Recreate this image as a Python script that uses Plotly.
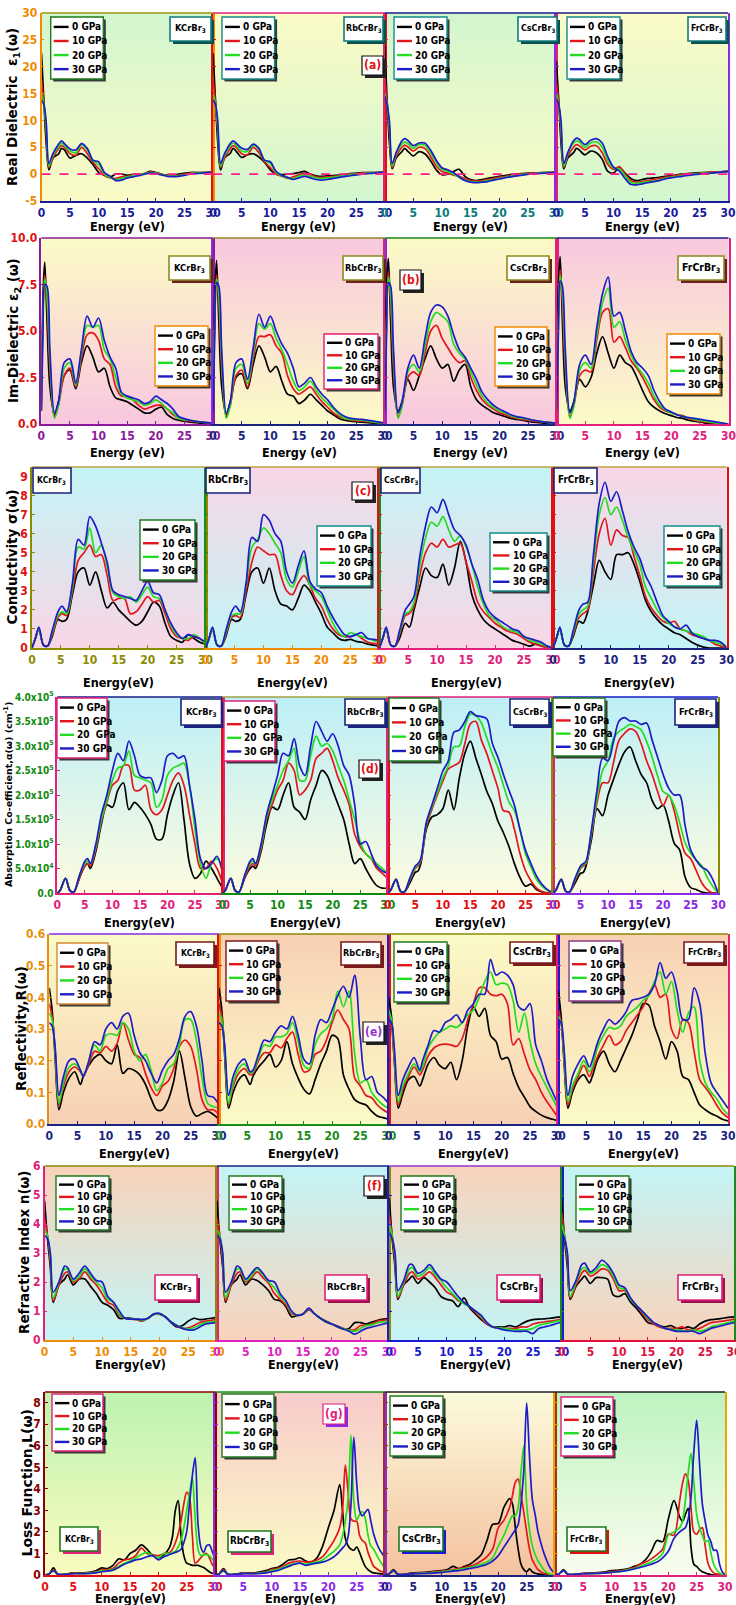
import base64
import struct
import zlib
import plotly.graph_objects as go

W, H = 736, 1605
NARROW = "Liberation Sans Narrow, DejaVu Sans Condensed, Arial Narrow, Liberation Sans, sans-serif"
WIDE = "DejaVu Sans, Liberation Sans, Arial, sans-serif"

# ---------------------------------------------------------------- data
PRESSURES = ["0 GPa", "10 GPa", "20 GPa", "30 GPa"]
PRESSURES_D = ["0 GPa", "10 GPa", "20\u00a0 GPa", "30 GPa"]
PRESSURES_F = ["0 GPa", "10 GPa", "10 GPa", "30 GPa"]
COMPOUNDS = ["KCrBr<sub>3</sub>", "RbCrBr<sub>3</sub>", "CsCrBr<sub>3</sub>", "FrCrBr<sub>3</sub>"]
SERIES_COLORS = ["#000000", "#e3161b", "#22dc22", "#1c1cc8"]

X_TICKS = [0, 5, 10, 15, 20, 25, 30]
X_LABELS = ["0", "5", "10", "15", "20", "25", "30"]

# (a) real dielectric function
E_EPS1 = [0, 0.4, 0.8, 1.3, 2, 3, 3.5, 4, 5, 6, 7, 8, 9, 10, 11, 12, 13, 14, 15, 16, 17, 18, 19, 20, 22, 24, 26, 28, 30]
EPS1_K = [
    [22.5, 14, 6, 0.8, 3.0, 3.8, 4.8, 4.5, 3.0, 3.5, 3.8, 3.0, 1.8, 0.3, -0.2, -0.5, 0.0, 0.0, -0.2, -0.1, 0.0, 0.1, 0.5, 0.3, -0.2, 0.0, 0.3, 0.3, 0.4],
    [17.5, 13.5, 8, 1.2, 3.0, 4.8, 5.3, 5.0, 3.8, 3.5, 5.0, 3.8, 2.2, 1.0, -0.2, -0.7, -0.8, -0.5, -0.4, -0.2, 0.0, 0.1, 0.4, 0.2, -0.3, -0.2, 0.2, 0.3, 0.4],
    [15, 13, 9, 1.5, 3.5, 5.2, 5.8, 5.3, 4.3, 4.0, 5.5, 4.5, 2.5, 1.8, 0.0, -0.6, -1.0, -0.8, -0.5, -0.3, -0.1, 0.1, 0.3, 0.2, -0.3, -0.3, 0.1, 0.3, 0.4],
    [13.8, 13, 10, 2.0, 3.8, 5.6, 6.2, 5.7, 4.7, 4.5, 5.7, 4.8, 2.6, 2.3, 0.3, -0.4, -1.2, -1.1, -0.7, -0.5, -0.3, 0.0, 0.2, 0.1, -0.4, -0.4, 0.0, 0.2, 0.4],
]
EPS1_RB = [
    [22.5, 14, 6, 0.8, 3.0, 3.9, 4.8, 4.3, 3.1, 3.6, 3.8, 3.2, 2.2, 0.8, 0.0, -0.1, 0.0, 0.1, 0.3, 0.5, 0.0, -0.3, -0.4, -0.3, -0.2, 0.1, 0.3, 0.3, 0.4],
    [17.5, 13.5, 8, 1.2, 3.0, 4.8, 5.3, 5.0, 3.8, 3.6, 5.0, 4.0, 2.3, 1.2, 0.0, -0.4, -0.8, -0.5, -0.1, 0.2, -0.1, -0.5, -0.6, -0.5, -0.3, 0.0, 0.2, 0.3, 0.4],
    [15, 13, 9, 1.5, 3.5, 5.3, 5.8, 5.4, 4.3, 4.2, 5.4, 4.6, 2.5, 2.0, 0.3, -0.3, -0.7, -0.8, -0.4, -0.1, -0.4, -0.7, -0.8, -0.7, -0.4, -0.1, 0.1, 0.3, 0.4],
    [13.8, 13, 10, 2.0, 3.8, 5.7, 6.2, 5.8, 4.8, 4.6, 5.6, 4.8, 2.6, 2.3, 0.5, -0.2, -0.6, -1.0, -0.7, -0.4, -0.7, -1.0, -1.1, -1.0, -0.6, -0.3, 0.0, 0.2, 0.4],
]
EPS1_CS = [
    [24, 14, 6, 1.0, 3.0, 4.2, 4.8, 4.3, 3.4, 4.2, 3.8, 2.5, 0.8, -0.1, 0.0, 0.5, 0.9, -0.4, -1.0, -1.2, -1.0, -0.8, -0.6, -0.4, -0.1, 0.1, 0.2, 0.3, 0.4],
    [18, 13.5, 8, 1.2, 3.3, 5.0, 5.4, 5.1, 4.3, 5.0, 4.8, 3.3, 1.5, 0.5, 0.2, -0.2, -0.4, -0.8, -1.2, -1.3, -1.2, -1.0, -0.8, -0.6, -0.3, 0.0, 0.2, 0.3, 0.4],
    [15, 13, 9, 1.5, 3.7, 5.6, 6.0, 5.7, 4.8, 5.5, 5.4, 4.0, 2.2, 0.9, 0.5, 0.0, -0.6, -1.1, -1.4, -1.5, -1.4, -1.2, -1.0, -0.8, -0.4, -0.1, 0.1, 0.3, 0.4],
    [14.5, 13, 10, 2.0, 4.0, 6.2, 6.6, 6.3, 5.3, 5.8, 5.8, 4.5, 2.6, 1.2, 0.8, 0.3, -0.5, -1.2, -1.5, -1.6, -1.5, -1.4, -1.1, -0.9, -0.5, -0.2, 0.1, 0.2, 0.4],
]
EPS1_FR = [
    [21, 14, 6, 1.0, 3.0, 4.0, 4.8, 4.5, 3.6, 4.3, 4.0, 2.8, 0.5, 0.2, 1.2, 0.2, -0.8, -1.2, -1.0, -0.8, -0.7, -0.6, -0.4, -0.3, 0.0, 0.2, 0.3, 0.4, 0.5],
    [17, 13.5, 8, 1.3, 3.3, 5.0, 5.5, 5.3, 4.5, 5.2, 5.3, 4.0, 1.8, 0.9, 1.4, 0.0, -1.2, -1.5, -1.4, -1.2, -1.0, -0.8, -0.6, -0.4, -0.1, 0.1, 0.3, 0.4, 0.5],
    [15, 13, 9, 1.5, 3.8, 5.8, 6.2, 6.0, 5.0, 5.8, 6.0, 5.0, 2.5, 1.1, 1.0, -0.3, -1.5, -1.7, -1.6, -1.4, -1.3, -1.1, -0.8, -0.6, -0.3, 0.0, 0.2, 0.3, 0.5],
    [14, 13, 10, 2.0, 4.0, 6.2, 6.7, 6.5, 5.5, 6.3, 6.6, 5.8, 3.2, 1.3, 0.6, -0.8, -1.9, -2.0, -1.8, -1.6, -1.4, -1.2, -0.9, -0.7, -0.4, -0.1, 0.1, 0.3, 0.5],
]

# (b) imaginary dielectric function
E_EPS2 = [0, 0.3, 0.6, 1, 1.5, 2.3, 3, 4, 5, 6, 7, 8, 9, 10, 11, 12, 13, 14, 15, 16, 17, 18, 19, 20, 21, 22, 23, 24, 26, 28, 30]
EPS2_K = [
    [0.8, 7.0, 8.7, 5.5, 2.0, 0.5, 1.2, 2.6, 2.9, 1.9, 3.3, 4.2, 3.6, 2.8, 3.0, 2.0, 1.4, 1.3, 1.2, 1.0, 0.8, 0.6, 0.6, 0.8, 0.9, 0.5, 0.3, 0.2, 0.1, 0.05, 0.0],
    [0.7, 6.0, 8.0, 6.5, 3.0, 0.4, 1.0, 2.6, 3.0, 2.0, 3.5, 4.8, 4.9, 4.5, 3.5, 3.2, 2.0, 1.5, 1.5, 1.3, 1.0, 0.8, 0.9, 1.0, 1.0, 0.8, 0.5, 0.3, 0.15, 0.1, 0.05],
    [0.7, 5.5, 7.8, 7.0, 3.5, 0.3, 1.0, 3.0, 3.3, 2.1, 3.8, 5.3, 5.2, 5.3, 4.0, 3.5, 2.5, 1.6, 1.4, 1.3, 1.2, 1.0, 1.1, 1.3, 1.1, 0.8, 0.6, 0.3, 0.2, 0.1, 0.05],
    [0.7, 5.0, 7.5, 7.4, 4.0, 0.6, 1.2, 3.3, 3.5, 2.2, 4.0, 5.8, 5.2, 5.7, 4.5, 3.6, 3.0, 1.7, 1.5, 1.4, 1.3, 1.1, 1.2, 1.5, 1.3, 1.1, 0.8, 0.4, 0.2, 0.1, 0.05],
]
EPS2_RB = [
    [0.8, 7.0, 8.8, 5.5, 2.0, 0.5, 1.2, 2.5, 2.7, 1.9, 3.2, 4.2, 3.6, 2.8, 3.1, 2.3, 1.6, 1.5, 1.1, 1.3, 1.6, 1.3, 1.0, 0.7, 0.5, 0.3, 0.2, 0.15, 0.1, 0.05, 0.0],
    [0.7, 6.0, 8.0, 6.5, 3.0, 0.4, 1.0, 2.6, 2.9, 2.0, 3.5, 4.7, 4.7, 4.8, 4.2, 3.8, 2.6, 1.9, 1.6, 1.8, 2.0, 1.6, 1.2, 0.9, 0.6, 0.4, 0.3, 0.2, 0.15, 0.1, 0.05],
    [0.7, 5.5, 7.8, 7.0, 3.5, 0.3, 1.0, 3.0, 3.2, 2.2, 3.8, 5.4, 5.1, 5.4, 4.6, 4.0, 3.2, 2.3, 1.8, 2.0, 2.3, 1.8, 1.4, 1.1, 0.8, 0.5, 0.3, 0.25, 0.2, 0.1, 0.05],
    [0.7, 5.0, 7.6, 7.4, 4.0, 0.6, 1.2, 3.3, 3.5, 2.4, 4.1, 5.9, 5.2, 5.8, 5.0, 4.3, 3.8, 3.0, 2.0, 2.2, 2.5, 2.0, 1.6, 1.3, 0.9, 0.6, 0.4, 0.3, 0.25, 0.15, 0.05],
]
EPS2_CS = [
    [0.8, 7.5, 8.9, 5.5, 2.0, 0.7, 1.2, 2.4, 1.8, 2.6, 3.5, 4.2, 3.5, 3.0, 3.2, 2.3, 2.9, 3.2, 2.0, 1.3, 1.0, 0.8, 0.6, 0.5, 0.4, 0.3, 0.25, 0.2, 0.1, 0.05, 0.0],
    [0.7, 6.0, 8.2, 6.5, 3.0, 0.4, 1.0, 2.5, 2.8, 2.6, 3.8, 5.0, 5.3, 4.6, 4.1, 3.6, 3.3, 3.4, 2.5, 1.8, 1.3, 1.0, 0.8, 0.6, 0.5, 0.4, 0.3, 0.25, 0.15, 0.1, 0.05],
    [0.7, 5.5, 7.9, 7.0, 3.5, 0.3, 1.0, 2.8, 3.2, 2.8, 4.2, 5.5, 6.0, 5.8, 5.5, 4.3, 3.8, 3.5, 2.8, 2.1, 1.5, 1.1, 0.9, 0.7, 0.6, 0.45, 0.35, 0.3, 0.2, 0.1, 0.05],
    [0.7, 5.0, 7.6, 7.4, 4.0, 0.6, 1.2, 3.0, 3.7, 3.0, 4.6, 6.0, 6.4, 6.3, 5.8, 4.8, 4.0, 3.6, 3.0, 2.4, 1.7, 1.3, 1.0, 0.8, 0.65, 0.5, 0.4, 0.35, 0.2, 0.1, 0.05],
]
EPS2_FR = [
    [0.8, 7.5, 9.0, 5.5, 2.0, 0.7, 1.2, 2.4, 2.0, 2.5, 3.8, 4.7, 3.8, 3.0, 3.7, 3.3, 3.1, 2.5, 1.8, 1.2, 0.9, 0.7, 0.55, 0.45, 0.35, 0.3, 0.2, 0.15, 0.05, 0.0, 0.0],
    [0.7, 6.0, 8.3, 6.5, 3.0, 0.4, 1.0, 2.6, 2.9, 2.8, 4.5, 6.0, 6.2, 4.4, 4.7, 4.1, 3.4, 3.0, 2.5, 1.9, 1.3, 0.9, 0.7, 0.6, 0.5, 0.45, 0.3, 0.2, 0.1, 0.05, 0.0],
    [0.7, 5.5, 8.0, 7.0, 3.5, 0.3, 1.0, 2.9, 3.3, 3.0, 4.8, 6.5, 7.3, 5.2, 5.5, 4.5, 3.7, 3.1, 2.7, 2.2, 1.5, 1.0, 0.75, 0.6, 0.5, 0.4, 0.35, 0.25, 0.15, 0.05, 0.0],
    [0.7, 5.0, 7.7, 7.4, 4.0, 0.6, 1.2, 3.2, 3.7, 3.2, 5.2, 7.0, 7.9, 5.8, 6.0, 5.0, 3.9, 3.3, 3.0, 2.6, 1.8, 1.2, 0.8, 0.65, 0.5, 0.4, 0.35, 0.3, 0.2, 0.1, 0.0],
]

# (c) optical conductivity
E_SIG = [0, 0.6, 1.2, 2, 2.7, 3.5, 4.5, 5.2, 6, 7, 8, 9, 10, 11, 12, 13, 14, 15, 16, 17, 18, 19, 20, 21, 22, 23, 24, 25, 26, 27, 28, 29, 30]
SIG_K = [
    [0, 0.5, 1.0, 0.15, 0.1, 0.6, 1.5, 1.4, 1.5, 2.8, 4.0, 4.2, 3.3, 4.0, 3.0, 2.1, 2.4, 2.0, 1.7, 1.4, 1.2, 1.4, 1.9, 2.4, 2.2, 1.3, 0.6, 0.4, 0.3, 0.7, 0.5, 0.3, 0.2],
    [0, 0.5, 1.0, 0.15, 0.1, 0.7, 1.6, 1.8, 1.7, 3.0, 4.6, 5.0, 5.4, 4.8, 4.9, 3.8, 2.5, 2.6, 2.6, 1.8, 1.9, 2.3, 2.7, 2.4, 2.5, 1.8, 1.0, 0.6, 0.5, 0.4, 0.6, 0.5, 0.2],
    [0, 0.5, 1.0, 0.15, 0.1, 0.8, 1.7, 1.9, 1.8, 3.2, 5.3, 5.2, 6.3, 5.0, 5.4, 4.3, 2.9, 2.7, 2.6, 2.7, 2.4, 2.8, 3.2, 2.7, 2.6, 2.0, 1.2, 0.7, 0.5, 0.5, 0.7, 0.5, 0.2],
    [0, 0.5, 1.1, 0.15, 0.1, 0.9, 1.9, 2.2, 1.9, 3.4, 5.7, 5.4, 6.9, 6.4, 5.5, 4.5, 3.0, 2.8, 2.7, 2.6, 2.5, 3.0, 3.5, 2.9, 2.8, 2.0, 1.3, 0.8, 0.5, 0.7, 0.6, 0.5, 0.3],
]
SIG_RB = [
    [0, 0.5, 1.0, 0.15, 0.1, 0.6, 1.5, 1.4, 1.5, 2.8, 4.0, 4.2, 3.4, 4.2, 3.0, 2.3, 2.2, 2.0, 2.6, 3.3, 3.0, 2.4, 1.8, 1.1, 0.8, 0.5, 0.4, 0.45, 0.35, 0.3, 0.2, 0.15, 0.1],
    [0, 0.5, 1.0, 0.15, 0.1, 0.7, 1.6, 1.7, 1.6, 3.0, 4.5, 5.3, 5.1, 4.9, 4.9, 3.8, 3.0, 2.8, 3.4, 3.8, 3.3, 2.6, 2.2, 1.5, 1.0, 0.7, 0.6, 0.6, 0.7, 0.5, 0.3, 0.25, 0.2],
    [0, 0.5, 1.0, 0.15, 0.1, 0.8, 1.7, 1.8, 1.8, 3.3, 5.3, 5.7, 6.3, 6.0, 5.5, 5.0, 3.6, 3.2, 4.0, 4.8, 3.3, 3.0, 2.7, 2.0, 1.3, 0.8, 0.6, 0.8, 0.7, 0.6, 0.5, 0.4, 0.3],
    [0, 0.5, 1.1, 0.15, 0.1, 0.9, 1.9, 2.2, 1.9, 3.4, 5.8, 5.6, 7.0, 6.7, 6.0, 5.6, 4.0, 3.4, 4.3, 5.1, 3.5, 3.1, 2.9, 2.2, 1.6, 1.1, 0.7, 0.6, 0.7, 0.8, 0.5, 0.45, 0.4],
]
SIG_CS = [
    [0, 0.5, 1.0, 0.15, 0.1, 0.5, 1.3, 1.1, 2.0, 3.2, 4.2, 3.8, 3.7, 4.4, 3.3, 4.2, 5.6, 4.5, 2.8, 2.0, 1.5, 1.2, 1.0, 0.8, 0.6, 0.4, 0.3, 0.2, 0.1, 0.2, 0.1, 0.05, 0.0],
    [0, 0.5, 1.0, 0.15, 0.1, 0.7, 1.7, 1.8, 2.2, 3.8, 5.0, 5.5, 5.3, 5.7, 5.3, 5.4, 5.5, 4.5, 3.5, 2.4, 1.9, 1.6, 1.3, 1.1, 0.9, 0.8, 0.7, 0.5, 0.3, 0.2, 0.1, 0.05, 0.0],
    [0, 0.5, 1.0, 0.15, 0.1, 0.8, 1.8, 1.9, 2.4, 4.3, 5.8, 6.6, 6.4, 6.9, 6.2, 5.6, 5.9, 5.3, 4.4, 3.2, 2.3, 1.7, 1.5, 1.2, 1.0, 0.9, 0.8, 0.6, 0.4, 0.3, 0.2, 0.1, 0.0],
    [0, 0.5, 1.1, 0.15, 0.1, 0.9, 2.0, 2.3, 2.7, 4.8, 6.4, 7.4, 7.1, 7.8, 7.0, 6.2, 5.9, 5.4, 4.4, 3.6, 2.5, 1.9, 1.6, 1.4, 1.2, 1.0, 0.9, 0.6, 0.5, 0.4, 0.3, 0.1, 0.0],
]
SIG_FR = [
    [0, 0.5, 1.0, 0.15, 0.1, 0.6, 1.4, 1.3, 1.9, 3.3, 4.6, 4.0, 3.6, 4.9, 4.9, 5.0, 4.4, 3.5, 2.5, 1.9, 1.5, 1.2, 1.0, 0.8, 0.7, 0.5, 0.3, 0.15, 0.05, 0.0, 0.0, 0.0, 0.0],
    [0, 0.5, 1.0, 0.15, 0.1, 0.7, 1.6, 1.8, 2.0, 4.0, 6.0, 6.8, 5.4, 6.2, 5.9, 5.8, 4.8, 3.8, 2.7, 2.1, 1.7, 1.4, 1.3, 1.4, 1.0, 0.9, 0.7, 0.6, 0.5, 0.4, 0.2, 0.1, 0.0],
    [0, 0.5, 1.0, 0.15, 0.1, 0.8, 1.8, 2.0, 2.2, 4.5, 7.0, 7.9, 7.0, 7.4, 6.7, 5.8, 5.1, 4.4, 3.2, 2.6, 2.0, 1.6, 1.3, 1.1, 1.0, 0.9, 0.8, 0.7, 0.6, 0.4, 0.3, 0.2, 0.1],
    [0, 0.5, 1.1, 0.15, 0.1, 0.9, 2.0, 2.3, 2.4, 4.9, 7.6, 8.7, 7.7, 8.2, 7.2, 6.1, 5.3, 4.7, 3.8, 3.2, 2.4, 1.7, 1.4, 1.1, 1.0, 1.2, 0.8, 0.6, 0.5, 0.4, 0.4, 0.3, 0.0],
]

# (d) absorption coefficient, in units of 1e5 cm^-1
ABS_UNIT = 1e5
E_ABS = [0, 0.5, 1.5, 2.3, 3, 4, 5, 5.5, 6, 7, 8, 9, 10, 11, 12, 13, 14, 15, 16, 17, 18, 19, 20, 21, 22, 23, 24, 25, 26, 27, 28, 29, 30]
ABS_K = [
    [0, 0.05, 0.3, 0.05, 0.02, 0.3, 0.55, 0.6, 0.5, 0.85, 1.4, 1.8, 1.75, 2.1, 2.25, 1.7, 1.85, 1.75, 1.6, 1.4, 1.1, 1.1, 1.6, 2.0, 2.25, 1.5, 0.6, 0.3, 0.4, 0.65, 0.5, 0.3, 0.1],
    [0, 0.05, 0.3, 0.05, 0.02, 0.3, 0.55, 0.6, 0.55, 0.9, 1.45, 1.85, 2.2, 2.3, 2.6, 2.6, 2.1, 2.1, 2.2, 1.7, 1.6, 1.7, 2.0, 2.3, 2.45, 2.2, 1.6, 1.0, 0.5, 0.5, 0.65, 0.5, 0.2],
    [0, 0.05, 0.3, 0.05, 0.02, 0.35, 0.6, 0.65, 0.6, 0.95, 1.5, 1.9, 2.3, 2.55, 2.6, 2.9, 2.4, 2.35, 2.3, 2.25, 1.75, 1.9, 2.4, 2.55, 2.6, 2.65, 2.2, 1.3, 0.6, 0.3, 0.6, 0.7, 0.5],
    [0, 0.05, 0.3, 0.05, 0.02, 0.35, 0.65, 0.7, 0.6, 1.0, 1.6, 2.0, 2.5, 2.85, 2.7, 3.1, 2.8, 2.4, 2.35, 2.35, 2.05, 2.3, 2.8, 2.85, 2.75, 2.8, 2.2, 1.5, 0.7, 0.5, 0.6, 0.75, 0.4],
]
ABS_RB = [
    [0, 0.05, 0.3, 0.05, 0.02, 0.3, 0.5, 0.55, 0.5, 0.85, 1.4, 1.75, 1.7, 2.0, 2.25, 1.75, 1.65, 1.5, 1.9, 2.2, 2.5, 2.4, 2.1, 1.8, 1.5, 1.0, 0.6, 0.7, 0.5, 0.3, 0.15, 0.1, 0.1],
    [0, 0.05, 0.3, 0.05, 0.02, 0.3, 0.55, 0.6, 0.55, 0.9, 1.5, 1.8, 2.1, 2.3, 2.65, 2.5, 2.0, 2.1, 2.3, 2.75, 2.85, 2.95, 2.7, 2.35, 2.1, 1.8, 1.2, 0.95, 0.8, 0.7, 0.5, 0.4, 0.3],
    [0, 0.05, 0.3, 0.05, 0.02, 0.35, 0.6, 0.65, 0.6, 0.95, 1.55, 1.9, 2.2, 2.5, 2.7, 2.95, 2.3, 2.3, 2.8, 3.2, 3.0, 3.05, 2.9, 2.6, 2.3, 1.9, 1.5, 1.05, 0.8, 0.7, 0.6, 0.5, 0.4],
    [0, 0.05, 0.3, 0.05, 0.02, 0.35, 0.65, 0.7, 0.6, 1.0, 1.6, 2.0, 2.4, 2.85, 2.8, 3.15, 2.6, 2.4, 3.0, 3.5, 3.3, 3.1, 3.25, 3.0, 2.6, 2.4, 1.8, 1.0, 1.05, 0.8, 0.55, 0.45, 0.4],
]
ABS_CS = [
    [0, 0.05, 0.28, 0.04, 0.02, 0.2, 0.42, 0.45, 0.6, 1.3, 1.55, 1.6, 1.72, 2.1, 1.7, 2.35, 2.85, 3.1, 2.75, 2.42, 2.07, 1.82, 1.47, 1.23, 0.95, 0.6, 0.32, 0.14, 0.18, 0.07, 0.02, 0.0, 0.0],
    [0, 0.05, 0.28, 0.04, 0.02, 0.25, 0.5, 0.55, 0.65, 1.35, 1.7, 2.0, 2.28, 2.53, 2.6, 2.67, 3.05, 3.45, 3.5, 3.12, 2.84, 2.49, 2.14, 1.68, 1.65, 1.3, 0.81, 0.46, 0.25, 0.1, 0.03, 0.0, 0.0],
    [0, 0.05, 0.28, 0.04, 0.02, 0.28, 0.52, 0.58, 0.68, 1.4, 1.75, 2.05, 2.35, 2.6, 2.98, 3.0, 3.4, 3.65, 3.62, 3.47, 3.16, 2.84, 2.56, 2.2, 1.86, 1.68, 1.3, 0.8, 0.53, 0.28, 0.14, 0.05, 0.0],
    [0, 0.05, 0.28, 0.04, 0.02, 0.3, 0.55, 0.6, 0.7, 1.44, 1.79, 2.14, 2.49, 2.7, 3.28, 3.33, 3.5, 3.7, 3.62, 3.6, 3.55, 3.05, 2.77, 2.42, 2.1, 1.79, 1.3, 0.88, 0.6, 0.35, 0.18, 0.07, 0.0],
]
ABS_FR = [
    [0, 0.05, 0.28, 0.04, 0.02, 0.2, 0.4, 0.42, 0.55, 1.1, 1.72, 1.58, 2.0, 2.32, 2.63, 2.88, 2.98, 2.7, 2.42, 2.25, 1.89, 1.72, 1.79, 1.47, 1.02, 0.88, 0.32, 0.11, 0.07, 0.02, 0.0, 0.0, 0.0],
    [0, 0.05, 0.28, 0.04, 0.02, 0.25, 0.5, 0.55, 0.6, 1.2, 1.85, 2.25, 2.25, 2.67, 3.12, 3.26, 3.35, 3.3, 3.05, 2.7, 2.42, 2.07, 1.79, 2.0, 1.68, 1.19, 0.81, 0.7, 0.46, 0.21, 0.07, 0.0, 0.0],
    [0, 0.05, 0.28, 0.04, 0.02, 0.28, 0.52, 0.58, 0.62, 1.25, 1.95, 2.5, 2.7, 3.16, 3.3, 3.37, 3.44, 3.4, 3.33, 3.09, 2.77, 2.39, 2.07, 2.0, 1.79, 1.44, 1.02, 0.81, 0.67, 0.56, 0.32, 0.14, 0.0],
    [0, 0.05, 0.28, 0.04, 0.02, 0.3, 0.55, 0.6, 0.65, 1.3, 2.1, 2.75, 2.7, 3.09, 3.51, 3.58, 3.51, 3.51, 3.44, 3.47, 3.12, 2.77, 2.42, 2.14, 2.0, 2.0, 1.37, 0.88, 0.67, 0.53, 0.46, 0.28, 0.0],
]

# (e) reflectivity
E_REF = [0, 0.5, 1, 1.7, 2.5, 3.5, 4.5, 5.5, 6, 7, 8, 9, 10, 11, 12, 13, 14, 15, 16, 17, 18, 19, 20, 21, 22, 23, 24, 25, 26, 27, 28, 29, 30]
REF_K = [
    [0.43, 0.36, 0.22, 0.045, 0.1, 0.145, 0.165, 0.125, 0.15, 0.185, 0.21, 0.22, 0.2, 0.19, 0.25, 0.16, 0.175, 0.17, 0.155, 0.125, 0.08, 0.045, 0.045, 0.075, 0.135, 0.23, 0.145, 0.055, 0.025, 0.033, 0.04, 0.03, 0.015],
    [0.38, 0.34, 0.24, 0.06, 0.12, 0.165, 0.18, 0.165, 0.15, 0.19, 0.23, 0.225, 0.245, 0.23, 0.255, 0.32, 0.265, 0.22, 0.21, 0.16, 0.115, 0.09, 0.12, 0.135, 0.175, 0.245, 0.265, 0.245, 0.175, 0.077, 0.045, 0.045, 0.03],
    [0.35, 0.33, 0.24, 0.065, 0.13, 0.18, 0.19, 0.17, 0.15, 0.2, 0.25, 0.23, 0.28, 0.285, 0.28, 0.32, 0.3, 0.23, 0.2, 0.22, 0.17, 0.105, 0.13, 0.175, 0.19, 0.25, 0.33, 0.33, 0.265, 0.145, 0.065, 0.055, 0.05],
    [0.32, 0.31, 0.25, 0.09, 0.15, 0.2, 0.205, 0.17, 0.15, 0.2, 0.26, 0.25, 0.3, 0.32, 0.3, 0.34, 0.35, 0.28, 0.225, 0.2, 0.16, 0.13, 0.17, 0.2, 0.22, 0.27, 0.34, 0.355, 0.31, 0.2, 0.09, 0.085, 0.06],
]
REF_RB = [
    [0.43, 0.36, 0.22, 0.05, 0.1, 0.14, 0.155, 0.125, 0.15, 0.18, 0.2, 0.22, 0.18, 0.2, 0.26, 0.19, 0.145, 0.11, 0.095, 0.14, 0.19, 0.23, 0.28, 0.27, 0.155, 0.11, 0.077, 0.066, 0.06, 0.04, 0.025, 0.02, 0.015],
    [0.38, 0.34, 0.24, 0.06, 0.12, 0.16, 0.175, 0.155, 0.16, 0.2, 0.225, 0.225, 0.25, 0.24, 0.27, 0.29, 0.22, 0.165, 0.17, 0.22, 0.23, 0.265, 0.32, 0.36, 0.33, 0.3, 0.145, 0.12, 0.09, 0.083, 0.06, 0.045, 0.035],
    [0.35, 0.33, 0.24, 0.065, 0.13, 0.175, 0.19, 0.16, 0.165, 0.21, 0.25, 0.245, 0.275, 0.275, 0.285, 0.32, 0.26, 0.185, 0.175, 0.25, 0.285, 0.3, 0.33, 0.42, 0.37, 0.42, 0.22, 0.13, 0.14, 0.1, 0.077, 0.06, 0.05],
    [0.32, 0.31, 0.25, 0.09, 0.15, 0.19, 0.205, 0.165, 0.17, 0.22, 0.265, 0.26, 0.29, 0.31, 0.3, 0.34, 0.28, 0.205, 0.19, 0.28, 0.33, 0.32, 0.36, 0.405, 0.435, 0.4, 0.47, 0.27, 0.14, 0.15, 0.1, 0.085, 0.065],
]
REF_CS = [
    [0.40, 0.34, 0.2, 0.05, 0.095, 0.14, 0.15, 0.12, 0.14, 0.19, 0.21, 0.185, 0.175, 0.195, 0.14, 0.2, 0.31, 0.37, 0.34, 0.365, 0.28, 0.26, 0.205, 0.21, 0.16, 0.115, 0.085, 0.055, 0.04, 0.028, 0.02, 0.015, 0.01],
    [0.34, 0.31, 0.2, 0.06, 0.11, 0.15, 0.18, 0.155, 0.17, 0.215, 0.24, 0.25, 0.252, 0.25, 0.245, 0.27, 0.33, 0.38, 0.43, 0.43, 0.41, 0.405, 0.41, 0.38, 0.25, 0.27, 0.22, 0.17, 0.14, 0.1, 0.07, 0.045, 0.02],
    [0.36, 0.33, 0.22, 0.07, 0.12, 0.16, 0.19, 0.165, 0.18, 0.24, 0.27, 0.29, 0.3, 0.31, 0.305, 0.32, 0.345, 0.36, 0.4, 0.45, 0.48, 0.44, 0.445, 0.44, 0.39, 0.29, 0.35, 0.26, 0.19, 0.15, 0.115, 0.08, 0.045],
    [0.33, 0.32, 0.24, 0.09, 0.14, 0.18, 0.21, 0.17, 0.2, 0.25, 0.295, 0.29, 0.32, 0.33, 0.345, 0.32, 0.36, 0.38, 0.41, 0.41, 0.52, 0.47, 0.48, 0.47, 0.44, 0.37, 0.36, 0.38, 0.25, 0.2, 0.14, 0.1, 0.06],
]
REF_FR = [
    [0.42, 0.34, 0.2, 0.05, 0.1, 0.14, 0.155, 0.13, 0.15, 0.205, 0.23, 0.19, 0.165, 0.2, 0.24, 0.28, 0.33, 0.38, 0.375, 0.31, 0.26, 0.205, 0.26, 0.23, 0.15, 0.14, 0.1, 0.06, 0.045, 0.033, 0.025, 0.015, 0.01],
    [0.36, 0.32, 0.21, 0.06, 0.11, 0.15, 0.185, 0.15, 0.17, 0.215, 0.25, 0.28, 0.25, 0.26, 0.295, 0.32, 0.345, 0.37, 0.41, 0.44, 0.4, 0.41, 0.3, 0.27, 0.33, 0.32, 0.23, 0.14, 0.115, 0.09, 0.06, 0.035, 0.02],
    [0.34, 0.32, 0.22, 0.07, 0.12, 0.16, 0.2, 0.165, 0.18, 0.245, 0.28, 0.305, 0.3, 0.31, 0.34, 0.355, 0.37, 0.39, 0.405, 0.45, 0.48, 0.41, 0.45, 0.36, 0.29, 0.35, 0.37, 0.2, 0.13, 0.1, 0.08, 0.05, 0.03],
    [0.33, 0.32, 0.24, 0.09, 0.15, 0.19, 0.215, 0.18, 0.2, 0.26, 0.3, 0.33, 0.315, 0.33, 0.355, 0.39, 0.395, 0.4, 0.41, 0.44, 0.51, 0.46, 0.48, 0.42, 0.33, 0.33, 0.43, 0.38, 0.22, 0.13, 0.1, 0.075, 0.05],
]

# (f) refractive index
E_N = [0, 0.5, 1, 1.5, 2.5, 3.5, 4, 5, 6, 7, 8, 9, 10, 11, 12, 13, 14, 15, 16, 17, 18, 19, 20, 21, 22, 23, 24, 25, 26, 27, 28, 29, 30]
N_K = [
    [4.8, 3.5, 2.5, 1.3, 1.9, 2.1, 2.25, 1.9, 2.1, 2.1, 1.85, 1.6, 1.3, 1.2, 1.05, 0.75, 0.75, 0.75, 0.72, 0.7, 0.75, 0.88, 0.9, 0.8, 0.6, 0.45, 0.5, 0.65, 0.75, 0.7, 0.72, 0.75, 0.78],
    [4.2, 3.6, 2.7, 1.35, 1.9, 2.3, 2.35, 2.0, 2.1, 2.35, 2.1, 1.9, 1.6, 1.3, 1.2, 0.85, 0.75, 0.72, 0.7, 0.65, 0.75, 0.88, 0.88, 0.8, 0.62, 0.48, 0.4, 0.42, 0.5, 0.6, 0.65, 0.68, 0.7],
    [3.8, 3.6, 2.9, 1.45, 2.0, 2.45, 2.45, 2.05, 2.2, 2.45, 2.2, 2.0, 1.8, 1.4, 1.3, 0.9, 0.75, 0.72, 0.72, 0.68, 0.75, 0.88, 0.9, 0.8, 0.62, 0.5, 0.42, 0.38, 0.42, 0.52, 0.6, 0.62, 0.65],
    [3.6, 3.5, 3.0, 1.65, 2.0, 2.55, 2.5, 2.1, 2.3, 2.55, 2.3, 2.05, 2.0, 1.5, 1.3, 1.0, 0.75, 0.72, 0.72, 0.7, 0.75, 0.9, 0.92, 0.8, 0.62, 0.5, 0.4, 0.35, 0.35, 0.45, 0.55, 0.58, 0.6],
]
N_RB = [
    [4.8, 3.5, 2.5, 1.3, 1.9, 2.1, 2.25, 1.9, 2.1, 2.05, 1.9, 1.7, 1.4, 1.35, 1.15, 0.8, 0.85, 0.9, 1.05, 0.9, 0.75, 0.65, 0.55, 0.45, 0.38, 0.4, 0.6, 0.6, 0.55, 0.62, 0.68, 0.72, 0.75],
    [4.2, 3.6, 2.7, 1.35, 1.9, 2.3, 2.35, 2.0, 2.15, 2.35, 2.15, 1.95, 1.6, 1.4, 1.2, 0.9, 0.85, 0.9, 1.05, 0.9, 0.75, 0.62, 0.55, 0.47, 0.4, 0.35, 0.35, 0.5, 0.5, 0.55, 0.65, 0.68, 0.7],
    [3.8, 3.6, 2.9, 1.45, 2.0, 2.45, 2.45, 2.05, 2.2, 2.45, 2.25, 2.0, 1.8, 1.5, 1.3, 0.95, 0.85, 0.9, 1.08, 0.9, 0.75, 0.62, 0.55, 0.47, 0.4, 0.33, 0.3, 0.4, 0.5, 0.52, 0.6, 0.62, 0.65],
    [3.6, 3.5, 3.0, 1.65, 2.0, 2.55, 2.5, 2.1, 2.3, 2.5, 2.3, 2.05, 2.0, 1.6, 1.35, 1.0, 0.85, 0.9, 1.1, 0.9, 0.75, 0.62, 0.55, 0.47, 0.38, 0.3, 0.2, 0.3, 0.4, 0.45, 0.5, 0.55, 0.6],
]
N_CS = [
    [4.9, 3.5, 2.5, 1.4, 1.9, 2.1, 2.2, 1.95, 2.15, 2.0, 1.8, 1.5, 1.4, 1.35, 1.15, 1.45, 1.1, 0.9, 0.7, 0.55, 0.45, 0.45, 0.45, 0.5, 0.45, 0.55, 0.65, 0.7, 0.72, 0.73, 0.75, 0.78, 0.8],
    [4.3, 3.6, 2.7, 1.45, 1.9, 2.3, 2.35, 2.1, 2.2, 2.35, 2.15, 1.9, 1.65, 1.55, 1.35, 1.3, 1.15, 0.95, 0.75, 0.55, 0.45, 0.42, 0.4, 0.4, 0.4, 0.45, 0.45, 0.55, 0.6, 0.62, 0.65, 0.68, 0.72],
    [4.0, 3.6, 2.9, 1.5, 2.0, 2.45, 2.5, 2.2, 2.3, 2.5, 2.25, 2.05, 1.8, 1.6, 1.4, 1.25, 1.15, 1.0, 0.8, 0.6, 0.45, 0.42, 0.4, 0.37, 0.35, 0.35, 0.35, 0.4, 0.5, 0.55, 0.6, 0.64, 0.68],
    [3.7, 3.5, 3.0, 1.7, 2.05, 2.6, 2.6, 2.3, 2.4, 2.6, 2.35, 2.1, 2.0, 1.75, 1.5, 1.3, 1.15, 1.0, 0.85, 0.6, 0.45, 0.4, 0.35, 0.32, 0.3, 0.3, 0.3, 0.22, 0.4, 0.45, 0.5, 0.56, 0.62],
]
N_FR = [
    [4.9, 3.5, 2.5, 1.4, 1.85, 2.1, 2.2, 1.95, 2.15, 2.15, 2.1, 1.55, 1.5, 1.6, 1.3, 1.1, 0.85, 0.6, 0.55, 0.5, 0.45, 0.5, 0.4, 0.4, 0.45, 0.4, 0.55, 0.65, 0.7, 0.72, 0.75, 0.78, 0.8],
    [4.4, 3.6, 2.7, 1.45, 1.9, 2.3, 2.4, 2.2, 2.3, 2.45, 2.4, 2.1, 1.7, 1.7, 1.4, 1.2, 0.95, 0.7, 0.55, 0.45, 0.4, 0.4, 0.4, 0.45, 0.35, 0.35, 0.4, 0.5, 0.6, 0.62, 0.65, 0.68, 0.72],
    [4.0, 3.6, 2.9, 1.5, 2.0, 2.45, 2.5, 2.3, 2.4, 2.6, 2.5, 2.2, 1.8, 1.75, 1.4, 1.2, 1.0, 0.75, 0.6, 0.5, 0.4, 0.37, 0.35, 0.32, 0.3, 0.35, 0.3, 0.35, 0.45, 0.5, 0.55, 0.6, 0.65],
    [3.7, 3.5, 3.0, 1.7, 2.05, 2.6, 2.65, 2.35, 2.5, 2.75, 2.6, 2.3, 1.9, 1.8, 1.45, 1.2, 1.0, 0.8, 0.6, 0.5, 0.4, 0.35, 0.3, 0.3, 0.3, 0.3, 0.22, 0.3, 0.4, 0.45, 0.5, 0.55, 0.6],
]

# (g) energy loss function
E_LOSS = [0, 0.7, 1.5, 2.2, 3, 5, 7, 9, 10, 11, 12, 13, 14, 15, 16, 17, 18, 19, 20, 21, 22, 22.5, 23, 23.5, 24, 24.5, 25, 25.5, 26, 26.5, 27, 27.5, 28, 28.5, 29, 29.5, 30]
LOSS_K = [
    [0, 0.05, 0.33, 0.05, 0.02, 0.1, 0.1, 0.2, 0.33, 0.3, 0.45, 0.75, 0.7, 1.0, 1.15, 1.4, 1.2, 0.9, 0.8, 0.95, 1.3, 1.8, 3.0, 3.45, 1.85, 0.9, 0.55, 0.5, 0.45, 0.45, 0.45, 0.4, 0.35, 0.25, 0.15, 0.08, 0.05],
    [0, 0.05, 0.25, 0.05, 0.02, 0.08, 0.08, 0.15, 0.25, 0.25, 0.3, 0.55, 0.7, 0.75, 0.9, 1.25, 1.0, 0.95, 0.9, 1.0, 1.05, 1.2, 1.5, 1.9, 2.5, 3.3, 3.85, 3.6, 1.85, 0.55, 0.65, 0.8, 0.95, 1.0, 0.8, 0.5, 0.3],
    [0, 0.05, 0.2, 0.05, 0.02, 0.07, 0.07, 0.12, 0.2, 0.2, 0.25, 0.4, 0.55, 0.65, 0.8, 0.95, 1.05, 0.9, 0.8, 1.0, 1.0, 1.05, 1.1, 1.3, 1.6, 2.2, 3.0, 3.8, 4.5, 2.65, 1.2, 0.9, 0.95, 0.95, 0.9, 0.75, 0.6],
    [0, 0.05, 0.2, 0.05, 0.02, 0.06, 0.06, 0.1, 0.15, 0.18, 0.22, 0.35, 0.5, 0.6, 0.7, 0.75, 0.85, 0.9, 0.7, 0.85, 0.95, 1.0, 1.05, 1.1, 1.2, 1.5, 2.0, 3.3, 4.6, 5.45, 2.4, 1.3, 1.05, 1.35, 1.4, 1.1, 0.7],
]
LOSS_RB = [
    [0, 0.05, 0.3, 0.05, 0.02, 0.1, 0.1, 0.2, 0.3, 0.35, 0.5, 0.7, 0.72, 0.8, 0.65, 0.6, 0.8, 1.35, 2.2, 3.0, 4.2, 3.0, 1.7, 1.35, 1.2, 1.15, 1.3, 1.05, 0.7, 0.4, 0.25, 0.15, 0.1, 0.08, 0.06, 0.05, 0.05],
    [0, 0.05, 0.25, 0.05, 0.02, 0.08, 0.08, 0.15, 0.25, 0.3, 0.4, 0.55, 0.62, 0.65, 0.6, 0.62, 0.7, 0.85, 1.2, 1.6, 2.2, 3.0, 5.1, 3.8, 2.6, 2.5, 2.5, 1.85, 1.6, 1.5, 1.05, 0.7, 0.4, 0.3, 0.2, 0.15, 0.1],
    [0, 0.05, 0.2, 0.05, 0.02, 0.07, 0.07, 0.12, 0.2, 0.25, 0.35, 0.45, 0.52, 0.55, 0.5, 0.55, 0.6, 0.7, 0.9, 1.1, 1.4, 1.8, 2.5, 3.6, 6.5, 3.45, 2.55, 2.8, 2.95, 2.65, 1.85, 1.35, 1.2, 0.95, 0.7, 0.5, 0.3],
    [0, 0.05, 0.2, 0.05, 0.02, 0.06, 0.06, 0.1, 0.15, 0.2, 0.3, 0.4, 0.5, 0.55, 0.45, 0.5, 0.55, 0.6, 0.7, 0.85, 1.1, 1.25, 1.4, 1.8, 3.3, 6.4, 4.3, 3.0, 2.75, 2.9, 3.05, 2.5, 1.9, 1.5, 1.2, 1.0, 0.8],
]
LOSS_CS = [
    [0, 0.05, 0.25, 0.05, 0.02, 0.1, 0.12, 0.18, 0.2, 0.25, 0.4, 0.3, 0.4, 0.5, 0.7, 0.95, 1.6, 2.35, 2.4, 3.15, 3.55, 3.3, 2.2, 1.2, 0.5, 0.25, 0.15, 0.28, 0.15, 0.08, 0.05, 0.03, 0.02, 0.01, 0.0, 0.0, 0.0],
    [0, 0.05, 0.2, 0.05, 0.02, 0.08, 0.1, 0.15, 0.18, 0.2, 0.25, 0.3, 0.35, 0.4, 0.5, 0.65, 0.85, 1.2, 2.2, 2.55, 3.15, 3.7, 4.3, 4.45, 3.7, 2.9, 2.0, 1.2, 0.7, 0.45, 0.25, 0.15, 0.08, 0.05, 0.02, 0.01, 0.0],
    [0, 0.05, 0.2, 0.05, 0.02, 0.07, 0.08, 0.12, 0.15, 0.18, 0.22, 0.25, 0.3, 0.35, 0.42, 0.5, 0.6, 0.8, 1.35, 1.85, 2.5, 2.75, 2.75, 3.15, 4.8, 6.0, 3.3, 2.1, 1.35, 0.95, 0.65, 0.45, 0.25, 0.12, 0.05, 0.02, 0.0],
    [0, 0.05, 0.2, 0.05, 0.02, 0.06, 0.07, 0.1, 0.12, 0.15, 0.18, 0.2, 0.25, 0.3, 0.35, 0.42, 0.5, 0.65, 0.9, 1.3, 1.7, 1.9, 2.1, 2.35, 3.3, 4.9, 8.0, 5.5, 3.5, 2.8, 2.0, 1.5, 1.05, 0.7, 0.4, 0.2, 0.08],
]
LOSS_FR = [
    [0, 0.05, 0.25, 0.05, 0.02, 0.08, 0.1, 0.15, 0.2, 0.22, 0.25, 0.3, 0.4, 0.5, 0.72, 1.1, 1.6, 1.55, 2.6, 3.45, 2.7, 2.5, 2.8, 3.1, 1.3, 0.5, 0.4, 0.25, 0.15, 0.1, 0.05, 0.02, 0.0, 0.0, 0.0, 0.0, 0.0],
    [0, 0.05, 0.2, 0.05, 0.02, 0.07, 0.08, 0.12, 0.15, 0.18, 0.22, 0.28, 0.35, 0.5, 0.6, 0.75, 0.95, 1.2, 1.9, 1.85, 3.45, 4.25, 4.7, 4.4, 3.15, 2.0, 1.9, 2.1, 2.2, 1.35, 0.55, 0.25, 0.1, 0.05, 0.02, 0.01, 0.0],
    [0, 0.05, 0.2, 0.05, 0.02, 0.06, 0.07, 0.1, 0.12, 0.15, 0.2, 0.25, 0.3, 0.4, 0.5, 0.6, 0.75, 1.0, 1.85, 2.0, 2.2, 2.5, 3.45, 4.75, 5.65, 4.3, 2.8, 2.2, 1.85, 1.55, 1.6, 1.05, 0.5, 0.25, 0.1, 0.03, 0.0],
    [0, 0.05, 0.2, 0.05, 0.02, 0.06, 0.07, 0.1, 0.12, 0.15, 0.18, 0.22, 0.28, 0.35, 0.42, 0.5, 0.6, 0.8, 1.1, 1.7, 2.0, 2.1, 2.2, 2.6, 3.6, 5.7, 7.2, 5.2, 3.3, 2.5, 1.85, 1.55, 1.15, 1.15, 0.55, 0.15, 0.02],
]

# tick labels
YT_EPS1 = [-5, 0, 5, 10, 15, 20, 25, 30]
YL_EPS1 = ["-5", "0", "5", "10", "15", "20", "25", "30"]
YT_EPS2 = [0, 2.5, 5, 7.5, 10]
YL_EPS2 = ["0.0", "2.5", "5.0", "7.5", "10.0"]
YT_SIG = [0, 1, 2, 3, 4, 5, 6, 7, 8, 9]
YL_SIG = ["0", "1", "2", "3", "4", "5", "6", "7", "8", "9"]
YT_ABS = [0, 5e4, 1e5, 1.5e5, 2e5, 2.5e5, 3e5, 3.5e5, 4e5]
YL_ABS = ["0.0", "5.0x10<sup>4</sup>", "1.0x10<sup>5</sup>", "1.5x10<sup>5</sup>", "2.0x10<sup>5</sup>",
          "2.5x10<sup>5</sup>", "3.0x10<sup>5</sup>", "3.5x10<sup>5</sup>", "4.0x10<sup>5</sup>"]
YT_REF = [0, 0.1, 0.2, 0.3, 0.4, 0.5, 0.6]
YL_REF = ["0.0", "0.1", "0.2", "0.3", "0.4", "0.5", "0.6"]
YT_N = [0, 1, 2, 3, 4, 5, 6]
YL_N = ["0", "1", "2", "3", "4", "5", "6"]
YT_LOSS = [0, 1, 2, 3, 4, 5, 6, 7, 8]
YL_LOSS = ["0", "1", "2", "3", "4", "5", "6", "7", "8"]

# ---------------------------------------------------------------- layout description
GREEN_L, YELLOW_L, PINK_L, CYAN_L, PEACH_L = "#d3f6cf", "#fbfbc6", "#f9c8df", "#c4f4f6", "#f8d0b4"

ROWS = [
    dict(E=E_EPS1, data=[EPS1_K, EPS1_RB, EPS1_CS, EPS1_FR], scale=1, top=13, bot=201, left=41.5, right=728,
         yr=[-5, 30], ytv=YT_EPS1, ytt=YL_EPS1, ytick_col="#f08a00", yfs=12,
         xtick_cols=["#1a1a9a", "#1a1a9a", "#0a7a7a", "#1a1a9a"],
         xline=["#1a1a9a"] * 4, top_cols=["#9a9a10", "#e0207a", "#1a1a8a", "#1a1a8a"],
         yline=["#f08a00", "#e01010", "#e0207a", "#8a2be2"],
         grad=[(GREEN_L, YELLOW_L), (YELLOW_L, GREEN_L), (GREEN_L, YELLOW_L), (YELLOW_L, GREEN_L)],
         ytitle="Real Dielectric  ε<sub>1</sub>(ω)", ytx=13, ytfs=13.5,
         xtitle="Energy (eV)", xty=226,
         legs=[(50.7, 17, 103.3, 79), (222, 17, 274.6, 79), (394, 17, 447, 79), (567, 17, 620, 79)],
         leg_cols=["#1e7a1e", "#138a8a", "#138a8a", "#138a8a"], leg_labels=PRESSURES,
         labs=[(170, 17, 211, 41), (344, 17, 383, 41), (518, 17, 557, 41), (688, 17, 726, 41)],
         lab_col="#0e7c7c", lab_shadow=["#0b4f4f"] * 4,
         tag=("(a)", (362, 56, 383, 75), "#e01010", "#111111", "#222222"), zero_line=True),
    dict(E=E_EPS2, data=[EPS2_K, EPS2_RB, EPS2_CS, EPS2_FR], scale=1, top=238, bot=424, left=41.3, right=728.5,
         yr=[0, 10], ytv=YT_EPS2, ytt=YL_EPS2, ytick_col="#e01010", yfs=12,
         xtick_cols=["#8b1a9a", "#1a237e", "#1a237e", "#e0207a"],
         xline=["#8b1a9a", "#1a237e", "#1a237e", "#e0207a"], top_cols=["#8b1a9a", "#8b8b20", "#1a8a1a", "#1a1a8a"],
         yline=["#8b1a9a", "#8a2be2", "#e0207a", "#e0207a"],
         grad=[(YELLOW_L, PINK_L), (PINK_L, YELLOW_L), (YELLOW_L, PINK_L), (PINK_L, YELLOW_L)],
         ytitle="Im-Dielectric ε<sub>2</sub> (ω)", ytx=14, ytfs=13.5,
         xtitle="Energy (eV)", xty=452,
         legs=[(155, 326, 208, 386), (324, 334, 378, 389), (495, 327, 547, 386), (667, 334, 720, 394)],
         leg_cols=["#f08a00", "#e0207a", "#f08a00", "#f08a00"], leg_labels=PRESSURES,
         labs=[(169, 256, 210, 280), (343, 256, 383, 280), (507, 256, 549, 280), (678, 256, 724, 280)],
         lab_col="#8b8b1a", lab_shadow=["#6b2020"] * 4,
         tag=("(b)", (400, 270, 421, 290), "#e01010", "#111111", "#222222"), zero_line=False),
    dict(E=E_SIG, data=[SIG_K, SIG_RB, SIG_CS, SIG_FR], scale=1, top=467, bot=648, left=31.9, right=726.6,
         yr=[0, 9.5], ytv=YT_SIG, ytt=YL_SIG, ytick_col="#e01010", yfs=12,
         xtick_cols=["#8b8b00", "#f08c00", "#e0207a", "#1a237e"],
         xline=["#8b8b00", "#f08c00", "#e0207a", "#1a237e"], top_cols=["#c0a040", "#c0a040", "#c0a040", "#c0a040"],
         yline=["#8b8b00", "#1a8a1a", "#e01010", "#e01010"],
         grad=[(CYAN_L, "#f9d6e6"), ("#f9d6e6", CYAN_L), (CYAN_L, "#f9d6e6"), ("#f9d6e6", CYAN_L)],
         ytitle="Conductivity σ(ω)", ytx=11, ytfs=13.5,
         xtitle="Energy(eV)", xty=682,
         legs=[(140, 520, 195, 580), (317, 526, 371, 586), (490, 533, 547, 591), (664, 526, 720, 586)],
         leg_cols=["#1e7a1e", "#138a8a", "#138a8a", "#138a8a"], leg_labels=PRESSURES,
         labs=[(33, 468, 71, 493), (206, 468, 250, 493), (381, 468, 420, 493), (554, 468, 597, 493)],
         lab_col="#1a237e", lab_shadow=[None] * 4,
         tag=("(c)", (352, 482, 373, 500), "#e01010", "#111111", "#222222"), zero_line=False),
    dict(E=E_ABS, data=[ABS_K, ABS_RB, ABS_CS, ABS_FR], scale=ABS_UNIT, top=697, bot=893, left=57.3, right=718.2,
         yr=[0, 4e5], ytv=YT_ABS, ytt=YL_ABS, ytick_col="#108a10", yfs=10,
         xtick_cols=["#e0207a", "#108a10", "#e01010", "#8a2be2"],
         xline=["#e0207a", "#108a10", "#e01010", "#8a2be2"], top_cols=["#1a1a8a", "#a0a040", "#e0207a", "#1a1ad0"],
         yline=["#e0207a", "#e01010", "#e0207a", "#8b8b00"],
         grad=[("#bdeff7", "#fcfbe0")] * 4,
         ytitle="Absorption Co-efficient,α(ω) (cm<sup>-1</sup>)", ytx=8, ytfs=9.5,
         xtitle="Energy(eV)", xty=922,
         legs=[(57, 698, 107, 758), (224, 701, 275, 761), (389, 698, 439, 761), (553, 698, 605, 756)],
         leg_cols=["#e0207a", "#e0207a", "#1e7a1e", "#1e7a1e"], leg_labels=PRESSURES_D,
         labs=[(181, 699, 221.5, 725), (345, 699, 385, 725), (510, 699, 549, 725), (675, 699, 716, 725)],
         lab_col="#1a237e", lab_shadow=["#1a237e"] * 4,
         tag=("(d)", (359, 760, 380, 778), "#e01010", "#111111", "#222222"), zero_line=False),
    dict(E=E_REF, data=[REF_K, REF_RB, REF_CS, REF_FR], scale=1, top=934, bot=1124, left=49.3, right=728,
         yr=[0, 0.6], ytv=YT_REF, ytt=YL_REF, ytick_col="#e8900c", yfs=12,
         xtick_cols=["#1a237e", "#1a8a1a", "#1a237e", "#1a237e"],
         xline=["#1a237e", "#1a8a1a", "#1a237e", "#1a237e"], top_cols=["#8a2be2", "#8b8b00", "#8b8b00", "#8b8b00"],
         yline=["#e8900c", "#e01010", "#1a1ad0", "#e0207a"],
         grad=[(YELLOW_L, PEACH_L), (PEACH_L, YELLOW_L), (YELLOW_L, PEACH_L), (PEACH_L, YELLOW_L)],
         ytitle="Reflectivity,R(ω)", ytx=21, ytfs=13.5,
         xtitle="Energy(eV)", xty=1153,
         legs=[(57, 943, 108, 1004), (226, 941, 277, 1001), (394, 942, 447, 1002), (569, 941, 621, 1001)],
         leg_cols=["#d08a30", "#7a1a1a", "#1e7a1e", "#8a3a8a"], leg_labels=PRESSURES,
         labs=[(176, 942, 214, 965), (341, 942, 381, 965), (510, 942, 553, 963), (684, 942, 724, 963)],
         lab_col="#7a1a1a", lab_shadow=["#7a1a1a"] * 4,
         tag=("(e)", (363, 1022, 384, 1042), "#9a30d0", "#111111", "#222222"), zero_line=False),
    dict(E=E_N, data=[N_K, N_RB, N_CS, N_FR], scale=1, top=1166, bot=1340, left=44.6, right=734,
         yr=[0, 6], ytv=YT_N, ytt=YL_N, ytick_col="#e0207a", yfs=12,
         xtick_cols=["#f08c00", "#e020c0", "#1a1ad0", "#e01040"],
         xline=["#f08c00", "#e020c0", "#1a1ad0", "#e01040"], top_cols=["#8b8b00", "#1a237e", "#9a30d0", "#8b8b00"],
         yline=["#e0207a", "#8b8b00", "#1a1ad0", "#1a8a1a"],
         grad=[("#f9d3bb", CYAN_L), (CYAN_L, "#f9d3bb"), ("#f9d3bb", CYAN_L), (CYAN_L, "#f9d3bb")],
         ytitle="Refractive Index n(ω)", ytx=24, ytfs=13.5,
         xtitle="Energy(eV)", xty=1364,
         legs=[(56, 1176, 109, 1230), (229, 1176, 282, 1230), (401, 1176, 454, 1230), (576, 1176, 629, 1230)],
         leg_cols=["#1e7a1e"] * 4, leg_labels=PRESSURES_F,
         labs=[(155, 1275, 197, 1300), (325, 1275, 367, 1300), (497, 1275, 540, 1300), (678, 1275, 722, 1300)],
         lab_col="#e0207a", lab_shadow=["#a01050"] * 4,
         tag=("(f)", (364, 1176, 384, 1196), "#e01010", "#111111", "#222222"), zero_line=False),
    dict(E=E_LOSS, data=[LOSS_K, LOSS_RB, LOSS_CS, LOSS_FR], scale=1, top=1392, bot=1575, left=45, right=725,
         yr=[0, 8.5], ytv=YT_LOSS, ytt=YL_LOSS, ytick_col="#8b0000", yfs=12,
         xtick_cols=["#e01010", "#8a2be2", "#1a237e", "#e0207a"],
         xline=["#e01010", "#8a2be2", "#1a237e", "#e0207a"], top_cols=["#8b0000", "#1a8a1a", "#202020", "#202020"],
         yline=["#8b0000", "#8a2be2", "#a03020", "#f0a000"],
         grad=[("#bdf3b0", "#fbfbc0"), ("#f8cbcb", "#fbfbc6"), ("#fbfbdc", "#f5c29f"), ("#bdf3c0", "#fbfdf0")],
         ytitle="Loss Function,L(ω)", ytx=26, ytfs=14,
         xtitle="Energy(eV)", xty=1598,
         legs=[(52, 1394, 103, 1451), (222, 1394, 274, 1457), (390, 1396, 443, 1456), (561, 1397, 613, 1456)],
         leg_cols=["#e0207a", "#1e7a1e", "#1e7a1e", "#e0207a"], leg_labels=PRESSURES,
         labs=[(60, 1527, 98, 1551), (228, 1531, 271, 1552), (399, 1527, 443, 1551), (567, 1527, 606, 1551)],
         lab_col="#1e7a1e", lab_shadow=["#e0207a", "#e0207a", "#1a1ad0", "#e01010"],
         tag=("(g)", (323, 1404, 345, 1424), "#e0207a", "#e0207a", "#8a2be2"), zero_line=False),
]


# ---------------------------------------------------------------- helpers
def _chunk(tag, data):
    return struct.pack(">I", len(data)) + tag + data + struct.pack(">I", zlib.crc32(tag + data) & 0xFFFFFFFF)


def gradient_png(top_hex, bot_hex, n=96):
    t = [int(top_hex[i:i + 2], 16) for i in (1, 3, 5)]
    b = [int(bot_hex[i:i + 2], 16) for i in (1, 3, 5)]
    raw = bytearray()
    for j in range(n):
        f = j / (n - 1)
        pix = bytes(int(round(t[k] + (b[k] - t[k]) * f)) for k in range(3))
        raw += b"\x00" + pix * 2
    png = (b"\x89PNG\r\n\x1a\n"
           + _chunk(b"IHDR", struct.pack(">IIBBBBB", 2, n, 8, 2, 0, 0, 0))
           + _chunk(b"IDAT", zlib.compress(bytes(raw)))
           + _chunk(b"IEND", b""))
    return "data:image/png;base64," + base64.b64encode(png).decode()


def px(x):
    return x / W


def py(y):
    return 1 - y / H


shapes, annotations, images = [], [], []


def add_box(x0, y0, x1, y1, border, shadow=None, off=3, lw=1.4):
    if shadow:
        shapes.append(dict(type="rect", xref="paper", yref="paper",
                           x0=px(x0 + off), x1=px(x1 + off), y0=py(y0 + off), y1=py(y1 + off),
                           fillcolor=shadow, line=dict(width=0), layer="above"))
    shapes.append(dict(type="rect", xref="paper", yref="paper",
                       x0=px(x0), x1=px(x1), y0=py(y0), y1=py(y1),
                       fillcolor="white", line=dict(color=border, width=lw), layer="above"))


def add_text(x, y, text, size, color="#000000", family=NARROW, xanchor="center", angle=0):
    annotations.append(dict(x=px(x), y=py(y), xref="paper", yref="paper", text=text, showarrow=False,
                            xanchor=xanchor, yanchor="middle", textangle=angle,
                            font=dict(family=family, size=size, color=color, weight="bold")))


# ---------------------------------------------------------------- build figure
fig = go.Figure()
layout = {}
k = 0
for row in ROWS:
    cw = (row["right"] - row["left"]) / 4
    for c in range(4):
        k += 1
        sfx = "" if k == 1 else str(k)
        x0 = row["left"] + c * cw
        x1 = x0 + cw
        layout["xaxis" + sfx] = dict(
            domain=[px(x0), px(x1)], anchor="y" + sfx, range=[0, 30], automargin=False,
            tickvals=X_TICKS, ticktext=X_LABELS, ticks="inside", ticklen=3, ticklabeloverflow="allow",
            tickcolor=row["xline"][c], showline=True, linecolor=row["xline"][c], linewidth=1.5,
            mirror=False, showgrid=False, zeroline=False, fixedrange=True,
            tickfont=dict(family=NARROW, size=12, color=row["xtick_cols"][c], weight="bold"))
        layout["yaxis" + sfx] = dict(
            domain=[py(row["bot"]), py(row["top"])], anchor="x" + sfx, range=row["yr"], automargin=False,
            tickvals=row["ytv"], ticktext=row["ytt"], showticklabels=(c == 0), ticklabeloverflow="allow",
            ticks="inside", ticklen=3, tickcolor=row["yline"][c],
            showline=True, linecolor=row["yline"][c], linewidth=1.5, mirror=True,
            showgrid=False, zeroline=False, fixedrange=True,
            tickfont=dict(family=NARROW, size=row["yfs"], color=row["ytick_col"], weight="bold"))

        # gradient background
        gtop, gbot = row["grad"][c]
        images.append(dict(source=gradient_png(gtop, gbot), xref="paper", yref="paper",
                           x=px(x0), y=py(row["top"]), sizex=cw / W, sizey=(row["bot"] - row["top"]) / H,
                           xanchor="left", yanchor="top", sizing="stretch", layer="below"))
        # top border
        shapes.append(dict(type="line", xref="paper", yref="paper", x0=px(x0), x1=px(x1),
                           y0=py(row["top"]), y1=py(row["top"]),
                           line=dict(color=row["top_cols"][c], width=1.5), layer="above"))
        if row["zero_line"]:
            shapes.append(dict(type="line", xref="x" + sfx, yref="y" + sfx, x0=0, x1=30, y0=0, y1=0,
                               line=dict(color="#ff1c8c", width=1.6, dash="dash"), layer="above"))

        # data curves
        for s in range(4):
            yvals = [v * row["scale"] for v in row["data"][c][s]]
            fig.add_trace(go.Scatter(
                x=row["E"], y=yvals, xaxis="x" + sfx, yaxis="y" + sfx, mode="lines",
                line=dict(color=SERIES_COLORS[s], width=1.7, shape="spline", smoothing=0.9),
                showlegend=False, hoverinfo="skip", cliponaxis=True))

        # legend box
        lx0, ly0, lx1, ly1 = row["legs"][c]
        add_box(lx0, ly0, lx1, ly1, row["leg_cols"][c], shadow="#3a3a3a", off=2.5)
        lw_, lh_ = lx1 - lx0, ly1 - ly0
        for s in range(4):
            yy = ly0 + lh_ * 0.16 + s * lh_ * 0.227
            shapes.append(dict(type="line", xref="paper", yref="paper",
                               x0=px(lx0 + 3), x1=px(lx0 + 0.34 * lw_), y0=py(yy), y1=py(yy),
                               line=dict(color=SERIES_COLORS[s], width=2.4), layer="above"))
            add_text(lx0 + 0.36 * lw_, yy, row["leg_labels"][s], 10, xanchor="left")

        # compound label
        bx0, by0, bx1, by1 = row["labs"][c]
        add_box(bx0, by0, bx1, by1, row["lab_col"], shadow=row["lab_shadow"][c], off=3, lw=1.6)
        fs = max(8.5, min(11.5, (bx1 - bx0) / 4.4))
        add_text((bx0 + bx1) / 2, (by0 + by1) / 2, COMPOUNDS[c], fs)

        # x-axis title
        add_text((x0 + x1) / 2, row["xty"], row["xtitle"], 12.5)

    # y-axis title
    add_text(row["ytx"], (row["top"] + row["bot"]) / 2, row["ytitle"], row["ytfs"], family=WIDE, angle=-90)
    # panel tag
    tag_text, (tx0, ty0, tx1, ty1), tcol, tborder, tshadow = row["tag"]
    add_box(tx0, ty0, tx1, ty1, tborder, shadow=tshadow, off=3, lw=1.2)
    add_text((tx0 + tx1) / 2, (ty0 + ty1) / 2, tag_text, 12, color=tcol)

fig.update_layout(
    width=W, height=H, autosize=False,
    margin=dict(l=0, r=0, t=0, b=0, pad=0, autoexpand=False),
    paper_bgcolor="white", plot_bgcolor="rgba(0,0,0,0)",
    showlegend=False, hovermode=False,
    shapes=shapes, annotations=annotations, images=images,
    **layout)

fig.write_html(
    "out.html",
    config={"displayModeBar": False, "responsive": False},
    post_script="document.body.style.margin='0';document.body.style.padding='0';document.body.style.overflow='hidden';",
)
